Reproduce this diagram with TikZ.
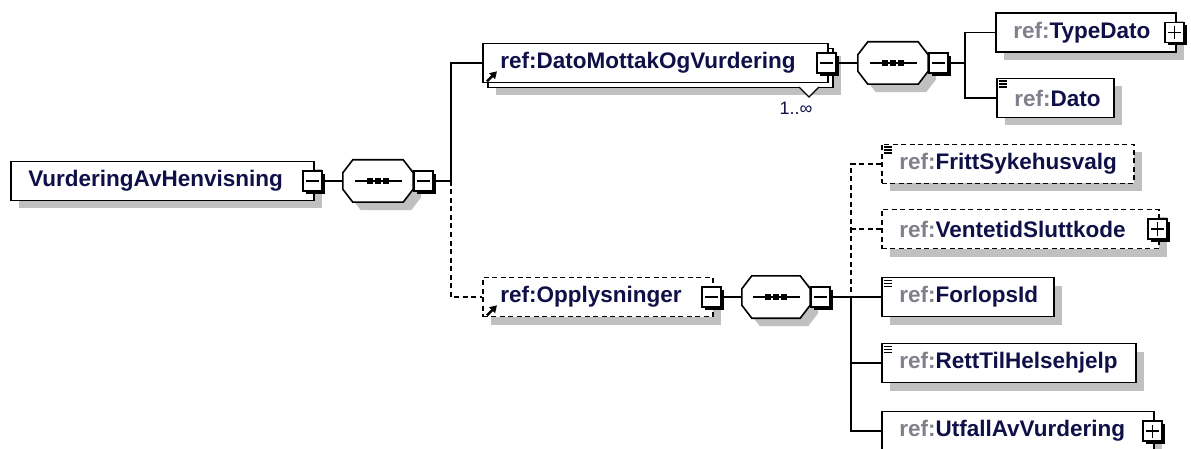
\documentclass[tikz,border=0pt]{standalone}
\usepackage{fontspec}
\setmainfont{Liberation Sans}
\usetikzlibrary{shadows,arrows.meta}

\definecolor{navy}{RGB}{16,16,72}
\definecolor{refgray}{RGB}{128,128,140}
\definecolor{shadowgray}{RGB}{192,192,192}

% grey namespace prefix
\newcommand\rf{\textcolor{refgray}{ref:}}

\tikzset{
  elem/.style={draw, line width=1.6pt, fill=white, minimum height=39pt,
    inner ysep=0pt, inner xsep=17.5pt, align=left, anchor=west, text=navy,
    font=\bfseries\fontsize{22.5}{27}\selectfont, text width=#1pt-35pt},
  shadowed/.style={general shadow={fill=shadowgray, shadow xshift=8pt, shadow yshift=-8pt}},
  optional/.style={dash pattern=on 5pt off 3.5pt},
  conn/.style={line width=1.6pt},
  ctrl/.style={draw, fill=white, line width=1.6pt, minimum width=19pt,
    minimum height=20pt, inner sep=0pt,
    general shadow={fill=black, shadow xshift=3pt, shadow yshift=-3pt}},
  minusbox/.style={ctrl, path picture={
    \draw[line width=1.5pt] ([xshift=-6.5pt]path picture bounding box.center)
      -- ([xshift=6.5pt]path picture bounding box.center);}},
  plusbox/.style={ctrl, path picture={
    \draw[line width=1.5pt] ([xshift=-6.5pt]path picture bounding box.center)
      -- ([xshift=6.5pt]path picture bounding box.center)
      ([yshift=-6.5pt]path picture bounding box.center)
      -- ([yshift=6.5pt]path picture bounding box.center);}},
  seqslot/.style={minimum width=#1pt, minimum height=42pt, inner sep=0pt},
}

% sequence compositor: octagon with shadow and the dotted bar
\newcommand\seqoct[1]{%
  \fill[shadowgray]
    ([xshift=18pt,yshift=-8pt]#1.north west) -- ([xshift=-2pt,yshift=-8pt]#1.north east)
    -- ([xshift=8pt,yshift=-21pt]#1.north east) -- ([xshift=8pt,yshift=5pt]#1.south east)
    -- ([xshift=-2pt,yshift=-8pt]#1.south east) -- ([xshift=18pt,yshift=-8pt]#1.south west)
    -- ([xshift=8pt,yshift=5pt]#1.south west) -- ([xshift=8pt,yshift=-21pt]#1.north west) -- cycle;
  \filldraw[fill=white, line width=1.6pt]
    ([xshift=10pt]#1.north west) -- ([xshift=-10pt]#1.north east)
    -- ([yshift=-13pt]#1.north east) -- ([yshift=13pt]#1.south east)
    -- ([xshift=-10pt]#1.south east) -- ([xshift=10pt]#1.south west)
    -- ([yshift=13pt]#1.south west) -- ([yshift=-13pt]#1.north west) -- cycle;
  \draw[line width=1.6pt] ([xshift=-23pt]#1.center) -- ([xshift=24pt]#1.center);
  \foreach \d in {-8,0,8}
    \fill ([xshift=\d pt]#1.center) ++(-2.8,-2.8) rectangle ++(5.6,5.6);
}

% three short bars marking a simple-typed element
\newcommand\simplemark[1]{%
  \foreach \d in {3.5,6.5,9.5}
    \draw[line width=1.4pt] ([xshift=3pt,yshift=-\d pt]#1.north west) -- ++(8,0);
}

% small reference arrow in the lower left corner
\newcommand\refarrow[1]{%
  \draw[line width=2.4pt, -{Triangle[length=7pt,width=8pt]}]
    ([xshift=5pt,yshift=2pt]#1.south west) -- ++(10,-10);
}

\begin{document}
\begin{tikzpicture}[x=1pt,y=-1pt]
\useasboundingbox (0,0) rectangle (1191,449);

% root element and its sequence
\node[elem=303, shadowed] (root) at (10,181) {VurderingAvHenvisning};
\node[minusbox] (rootm) at ([xshift=-2pt]root.east) {};
\node[seqslot=70] (s1) at (378,181) {};
\seqoct{s1}
\node[minusbox, anchor=west] (s1m) at (s1.east) {};
\coordinate (j1) at (451,181);

% repeated reference DatoMottakOgVurdering
\node[elem=345, shadowed] (dmb) at (487,68) {};
\node[elem=345] (dm) at (482,63) {ref:DatoMottakOgVurdering};
\refarrow{dm}
\filldraw[fill=white, line width=1.3pt] (799,87) -- (809,97) -- (819,87);
\node[minusbox] (dmm) at ([xshift=-2pt]dm.east) {};
\node[text=navy, font=\fontsize{18}{22}\selectfont] (occ) at (796,108) {1..∞};
\node[seqslot=70] (s2) at (893,63) {};
\seqoct{s2}
\node[minusbox, anchor=west] (s2m) at (s2.east) {};
\coordinate (j2) at (965,63);

\node[elem=180, shadowed] (td) at (995,32.5) {\rf TypeDato};
\node[plusbox] (tdp) at ([xshift=-2pt]td.east) {};
\node[elem=117, shadowed] (dt) at (996,98) {\rf Dato};
\simplemark{dt}

% optional reference Opplysninger
\node[elem=230, shadowed, optional] (op) at (482,297) {ref:Opplysninger};
\refarrow{op}
\node[minusbox] (opm) at ([xshift=-2pt]op.east) {};
\node[seqslot=68] (s3) at (776,297) {};
\seqoct{s3}
\node[minusbox, anchor=west] (s3m) at (s3.east) {};
\coordinate (j3) at (851,297);

\node[elem=252, shadowed, optional] (fs) at (881,164) {\rf FrittSykehusvalg};
\simplemark{fs}
\node[elem=277, shadowed, optional] (vt) at (881,229) {\rf VentetidSluttkode};
\node[plusbox] (vtp) at ([xshift=-2pt]vt.east) {};
\node[elem=172, shadowed] (fl) at (881,297) {\rf ForlopsId};
\simplemark{fl}
\node[elem=254, shadowed] (rt) at (881,363) {\rf RettTilHelsehjelp};
\simplemark{rt}
\node[elem=272, shadowed] (ut) at (881,431) {\rf UtfallAvVurdering};
\node[plusbox] (utp) at ([xshift=-2pt]ut.east) {};

% connectors
\draw[conn] (rootm.east) -- (s1.west);
\draw[conn] (s1m.east) -- (j1);
\draw[conn] (j1) |- (dm.west);
\draw[conn, optional] (j1) |- (op.west);

\draw[conn] (dmm.east) -- (s2.west);
\draw[conn] (s2m.east) -- (j2);
\draw[conn] (j2) |- (td.west);
\draw[conn] (j2) |- (dt.west);

\draw[conn] (opm.east) -- (s3.west);
\draw[conn] (s3m.east) -- (j3) -- (fl.west);
\draw[conn] (j3) |- (rt.west);
\draw[conn] (j3) |- (ut.west);
\draw[conn, optional] (fs.west) -| (j3);
\draw[conn, optional] (vt.west) -- (vt.west -| j3);
\end{tikzpicture}
\end{document}
